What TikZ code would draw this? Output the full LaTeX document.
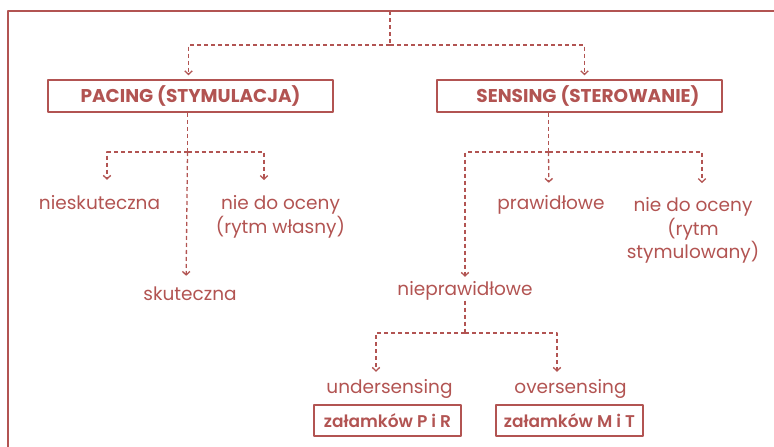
\documentclass[tikz,border=0pt]{standalone}
\usepackage{fontspec}
\setmainfont{Poppins}
\newfontfamily\semib{Poppins SemiBold}
\usetikzlibrary{arrows.meta}
\definecolor{brick}{RGB}{178,84,82}

\begin{document}
\begin{tikzpicture}[x=1pt, y=-1pt, line join=round, color=brick, text=brick,
	font=\fontsize{18.5}{23.5}\selectfont,
	link/.style={dash pattern=on 4pt off 3pt, line width=1.3pt},
	tip/.style={-{Straight Barb[length=3.5pt,width=7.5pt]}},
	box/.style={draw, line width=1.5pt, minimum height=32pt, inner sep=0pt},
	lbl/.style={align=center, inner sep=1pt, text height=13pt, text depth=4pt}]
	\useasboundingbox (0,0) rectangle (774,447);
	\draw[line width=1.7pt] (8,447) -- (8,11) -- (774,11);
	\coordinate (top) at (390,11);
	% the two main boxes
	\node[box, minimum width=285pt, font=\bfseries\fontsize{18.5}{22}\selectfont] (pacing) at (190.5,96) {PACING (STYMULACJA)};
	\node[box, minimum width=285pt, font=\bfseries\fontsize{18.5}{22}\selectfont] (sensing) at (579.5,96) {\hspace{17pt}SENSING (STEROWANIE)};
	\coordinate (split) at (390,45);
	\draw[link] (top) -- (split);
	\draw[link,tip,shorten >=4pt] (split) -| ([xshift=-2pt]pacing.north);
	\draw[link,tip,shorten >=4pt] (split) -| ([xshift=5pt]sensing.north);
	% pacing
	\node[lbl] (niesk) at (99.5,205) {nieskuteczna};
	\node[lbl] (skut) at (190,296) {skuteczna};
	\node[align=center, inner sep=1pt, anchor=north] (pwlasny) at (280.5,194.4) {nie do oceny\\(rytm własny)};
	\coordinate (pfork) at ([xshift=-3pt]pacing.south |- 0,152);
	\draw[link] ([xshift=-3pt]pacing.south) -- (pfork);
	\draw[link,tip,shorten >=15.5pt] (pfork) -| ([xshift=7.5pt]niesk.north);
	\draw[link,tip,shorten >=14.4pt] (pfork) -| ([xshift=-16.5pt]pwlasny.north);
	\draw[link,tip,shorten >=10.5pt] (pfork) -- ([xshift=-4pt]skut.north);
	% sensing
	\node[lbl] (praw) at (551,205) {prawidłowe};
	\node[align=center, inner sep=1pt, anchor=north] (sstym) at (693,196.6) {nie do oceny\\(rytm\\stymulowany)};
	\node[lbl] (niepr) at (465,291) {nieprawidłowe};
	\coordinate (sfork) at ([xshift=-31pt]sensing.south |- 0,152);
	\draw[link] ([xshift=-31pt]sensing.south) -- (sfork);
	\draw[link,tip,shorten >=12.5pt] (sfork) -- ([xshift=-2pt]praw.north);
	\draw[link,tip,shorten >=13.6pt] (sfork) -| ([xshift=9pt]sstym.north);
	\draw[link,tip,shorten >=4.5pt] (sfork) -| (niepr.north);
	% undersensing / oversensing
	\node[lbl] (under) at (389.5,389) {undersensing};
	\node[lbl] (over) at (570.5,389) {oversensing};
	\node[box, minimum width=147pt, minimum height=31pt, font=\semib\fontsize{17}{20}\selectfont] (pr) at (387.5,420.5) {załamków P i R};
	\node[box, minimum width=147pt, minimum height=31pt, font=\semib\fontsize{17}{20}\selectfont] (mt) at (569.5,420.5) {załamków M i T};
	\coordinate (nfork) at (niepr.south |- 0,333);
	\draw[link] (niepr.south) -- (nfork);
	\draw[link,tip,shorten >=7.5pt] (nfork) -| ([xshift=-13.5pt]under.north);
	\draw[link,tip,shorten >=7.5pt] (nfork) -| ([xshift=-13.5pt]over.north);
\end{tikzpicture}
\end{document}
